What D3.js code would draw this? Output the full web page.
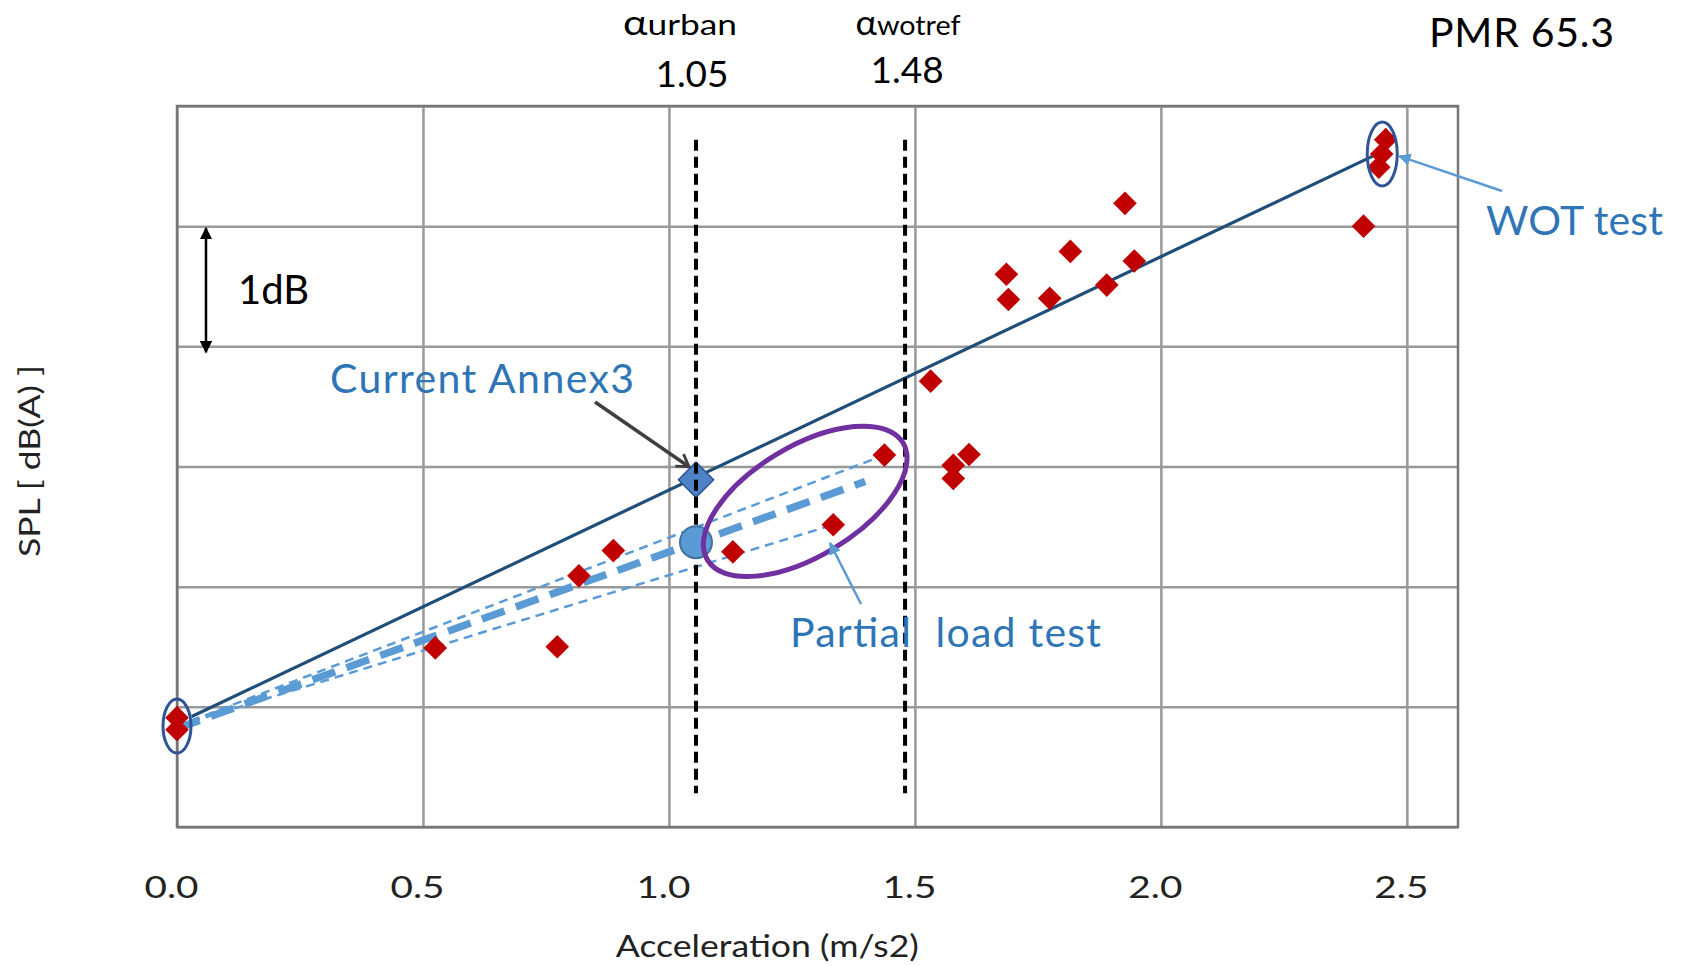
<!DOCTYPE html>
<html lang="en">
<head>
<meta charset="UTF-8">
<title>SPL vs acceleration</title>
<style>
    body { margin:0; background:#fff; }
    svg text { font-family: Lato, "Open Sans", sans-serif; }
</style>
</head>
<body>
<script src="https://cdn.jsdelivr.net/npm/d3@7"></script>
<script type="text/javascript">
    // x axis ticks
    var xTicks = [0, 0.5, 1.0, 1.5, 2.0, 2.5];
    var xTickLabels = ["0.0", "0.5", "1.0", "1.5", "2.0", "2.5"];
    // y grid, one line per dB (no labels on the original)
    var yGrid = [0, 1, 2, 3, 4, 5, 6];

    // measured points: acceleration (m/s2), SPL (dB, relative)
    var accel = [0.0, 0.0, 0.525, 0.773, 0.817, 0.887, 1.130, 1.334, 1.438, 1.532, 1.578, 1.578,
                 1.610, 1.686, 1.690, 1.774, 1.816, 1.890, 1.927, 1.946, 2.412, 2.443, 2.449, 2.457];
    var spl = [0.91, 0.81, 1.49, 1.50, 2.09, 2.30, 2.29, 2.515, 3.095, 3.71, 3.01, 2.90,
               3.10, 4.60, 4.39, 4.40, 4.79, 4.51, 5.19, 4.71, 5.00, 5.49, 5.60, 5.72];

    // reference line (current annex 3) and partial load lines
    var refAccel = [0.03, 2.45], refSpl = [0.92, 5.62];
    var plMidAccel = [0.0, 1.399], plMidSpl = [0.82, 2.875];
    var plHighAccel = [0.0, 1.438], plHighSpl = [0.84, 3.095];
    var plLowAccel = [0.0, 1.334], plLowSpl = [0.84, 2.515];

    // alpha values
    var alphaNames = ["urban", "wotref"];
    var alphaValues = [1.055, 1.48];
    var alphaLabels = ["1.05", "1.48"];
    var annex3 = [1.055, 2.89];
    var partialPoint = [1.055, 2.37];

    var W = 1685, H = 966;
    var svg = d3.select("body").append("svg").attr("width", W).attr("height", H);

    var x = d3.scaleLinear().domain([0, 2.604]).range([177, 1458]);
    var y = d3.scaleLinear().domain([0, 6]).range([827, 106]);

    //网格
    var gx = svg.append("g").attr("transform", "translate(0,827)")
        .call(d3.axisBottom(x).tickValues(xTicks).tickSize(-721)
            .tickFormat(function (d, i) { return xTickLabels[i]; }));
    gx.select(".domain").remove();
    gx.selectAll("line").attr("stroke", "#999").attr("stroke-width", 2.5);
    gx.selectAll("text")
        .attr("y", 71).attr("dy", 0).attr("x", -6)
        .attr("fill", "#222").attr("font-size", 30)
        .attr("textLength", 54).attr("lengthAdjust", "spacingAndGlyphs")
        .style("font-family", "Lato");

    var gy = svg.append("g").attr("transform", "translate(177,0)")
        .call(d3.axisLeft(y).tickValues(yGrid).tickSize(-1281).tickFormat(""));
    gy.select(".domain").remove();
    gy.selectAll("line").attr("stroke", "#999").attr("stroke-width", 2.5);

    svg.append("rect").attr("x", 177).attr("y", 106).attr("width", 1281).attr("height", 721)
        .attr("fill", "none").attr("stroke", "#777").attr("stroke-width", 2.5);

    // axis titles
    svg.append("text").attr("x", x(1.2)).attr("y", 957).attr("text-anchor", "middle")
        .attr("font-size", 30).attr("fill", "#222")
        .attr("textLength", 303).attr("lengthAdjust", "spacingAndGlyphs")
        .text("Acceleration  (m/s2)");
    svg.append("text").attr("transform", "translate(40,461) rotate(-90)")
        .attr("text-anchor", "middle").attr("font-size", 28).attr("fill", "#222")
        .attr("textLength", 192).attr("lengthAdjust", "spacingAndGlyphs")
        .text("SPL  [ dB(A) ]");

    var line = d3.line().x(function (d) { return x(d[0]); }).y(function (d) { return y(d[1]); });
    function pts(a, b) { return a.map(function (v, i) { return [v, b[i]]; }); }

    // partial load lines
    svg.append("path").attr("d", line(pts(plHighAccel, plHighSpl))).attr("fill", "none")
        .attr("stroke", "#5B9BD5").attr("stroke-width", 2.5).attr("stroke-dasharray", "9,6");
    svg.append("path").attr("d", line(pts(plLowAccel, plLowSpl))).attr("fill", "none")
        .attr("stroke", "#5B9BD5").attr("stroke-width", 2.5).attr("stroke-dasharray", "9,6");
    svg.append("path").attr("d", line(pts(plMidAccel, plMidSpl))).attr("fill", "none")
        .attr("stroke", "#5B9BD5").attr("stroke-width", 7.5).attr("stroke-dasharray", "24,12");

    // reference line
    svg.append("path").attr("d", line(pts(refAccel, refSpl))).attr("fill", "none")
        .attr("stroke", "#1F4E79").attr("stroke-width", 3.2);

    // red points
    var diamond = d3.symbol().type(d3.symbolSquare).size(280);
    svg.selectAll("path.pt").data(pts(accel, spl)).enter().append("path")
        .attr("class", "pt")
        .attr("d", diamond)
        .attr("transform", function (d) { return "translate(" + x(d[0]) + "," + y(d[1]) + ") rotate(45)"; })
        .attr("fill", "#C00000");

    // annex3 diamond
    svg.append("path").attr("d", d3.symbol().type(d3.symbolSquare).size(620))
        .attr("transform", "translate(" + x(annex3[0]) + "," + y(annex3[1]) + ") rotate(45)")
        .attr("fill", "#4F81C7").attr("stroke", "#2F5597").attr("stroke-width", 1.5);

    // alpha lines
    svg.selectAll("line.alpha").data(alphaValues).enter().append("line")
        .attr("class", "alpha")
        .attr("x1", function (d) { return x(d); }).attr("x2", function (d) { return x(d); })
        .attr("y1", y(5.72)).attr("y2", y(0.28))
        .attr("stroke", "#000").attr("stroke-width", 4).attr("stroke-dasharray", "11,6");

    // partial load point
    svg.append("circle").attr("cx", x(partialPoint[0])).attr("cy", y(partialPoint[1])).attr("r", 16)
        .attr("fill", "#5B9BD5").attr("stroke", "#41719C").attr("stroke-width", 2);

    // ellipses
    svg.append("ellipse").attr("cx", x(0)).attr("cy", y(0.84)).attr("rx", 14).attr("ry", 27)
        .attr("fill", "none").attr("stroke", "#2F5597").attr("stroke-width", 3);
    svg.append("ellipse").attr("cx", x(2.45)).attr("cy", y(5.6)).attr("rx", 15).attr("ry", 32)
        .attr("fill", "none").attr("stroke", "#2F5597").attr("stroke-width", 3);
    svg.append("ellipse").attr("rx", 114).attr("ry", 55)
        .attr("transform", "translate(" + x(1.277) + "," + y(2.71) + ") rotate(-30.9)")
        .attr("fill", "none").attr("stroke", "#7030A0").attr("stroke-width", 5);

    // arrow heads
    var defs = svg.append("defs");
    function head(id, color) {
        defs.append("marker").attr("id", id).attr("viewBox", "0 0 10 10")
            .attr("refX", 9).attr("refY", 5).attr("markerWidth", 5).attr("markerHeight", 5)
            .attr("orient", "auto-start-reverse")
            .append("path").attr("d", "M0,0L10,5L0,10Z").attr("fill", color);
    }
    head("hb", "#5B9BD5");
    head("hk", "#000");
    defs.append("marker").attr("id", "hg").attr("viewBox", "0 0 12 12")
        .attr("refX", 10).attr("refY", 6).attr("markerWidth", 5).attr("markerHeight", 5)
        .attr("orient", "auto")
        .append("path").attr("d", "M2,1L10,6L2,11").attr("fill", "none")
        .attr("stroke", "#404040").attr("stroke-width", 2);

    // 1dB arrow
    svg.append("line").attr("x1", 206).attr("x2", 206).attr("y1", y(5) + 2).attr("y2", y(4) + 6)
        .attr("stroke", "#000").attr("stroke-width", 2.5)
        .attr("marker-start", "url(#hk)").attr("marker-end", "url(#hk)");
    svg.append("text").attr("x", 238).attr("y", 304).attr("font-size", 40).attr("fill", "#000").text("1dB");

    // Current Annex3
    svg.append("line").attr("x1", 595).attr("y1", 402).attr("x2", x(annex3[0]) - 7).attr("y2", y(annex3[1]) - 13)
        .attr("stroke", "#404040").attr("stroke-width", 3.5).attr("marker-end", "url(#hg)");
    svg.append("text").attr("x", 330).attr("y", 393).attr("font-size", 41).attr("fill", "#2E75B6")
        .attr("textLength", 304).text("Current Annex3");

    // WOT test
    svg.append("line").attr("x1", 1502).attr("y1", 191).attr("x2", x(2.45) + 17).attr("y2", y(5.6) + 2)
        .attr("stroke", "#5B9BD5").attr("stroke-width", 2.5).attr("marker-end", "url(#hb)");
    svg.append("text").attr("x", 1486).attr("y", 235).attr("font-size", 41).attr("fill", "#2E75B6")
        .attr("textLength", 177).text("WOT test");

    // Partial load test
    svg.append("line").attr("x1", 861).attr("y1", 604).attr("x2", 830).attr("y2", 543)
        .attr("stroke", "#5B9BD5").attr("stroke-width", 2.5).attr("marker-end", "url(#hb)");
    svg.append("text").attr("x", 790).attr("y", 647).attr("font-size", 41).attr("fill", "#2E75B6")
        .attr("textLength", 311).style("white-space", "pre").text("Partial  load test");

    // alpha labels
    var aLab = svg.selectAll("text.alab").data(alphaValues).enter().append("text")
        .attr("class", "alab")
        .attr("x", function (d, i) { return x(d) + (i === 0 ? -16 : 3); })
        .attr("y", 35)
        .attr("text-anchor", "middle").attr("fill", "#000")
        .attr("textLength", function (d, i) { return i === 0 ? 114 : 105; })
        .attr("lengthAdjust", "spacingAndGlyphs");
    aLab.append("tspan").attr("font-size", 34).text("α");
    aLab.append("tspan").attr("font-size", function (d, i) { return i === 0 ? 29 : 27; })
        .text(function (d, i) { return alphaNames[i]; });
    svg.selectAll("text.aval").data(alphaValues).enter().append("text")
        .attr("class", "aval")
        .attr("x", function (d, i) { return x(d) + (i === 0 ? -4 : 2); })
        .attr("y", function (d, i) { return i === 0 ? 87 : 83; })
        .attr("text-anchor", "middle").attr("font-size", 37).attr("fill", "#000")
        .text(function (d, i) { return alphaLabels[i]; });

    svg.append("text").attr("x", 1429).attr("y", 47).attr("font-size", 41).attr("fill", "#000")
        .attr("textLength", 185).text("PMR 65.3");
</script>
</body>
</html>
